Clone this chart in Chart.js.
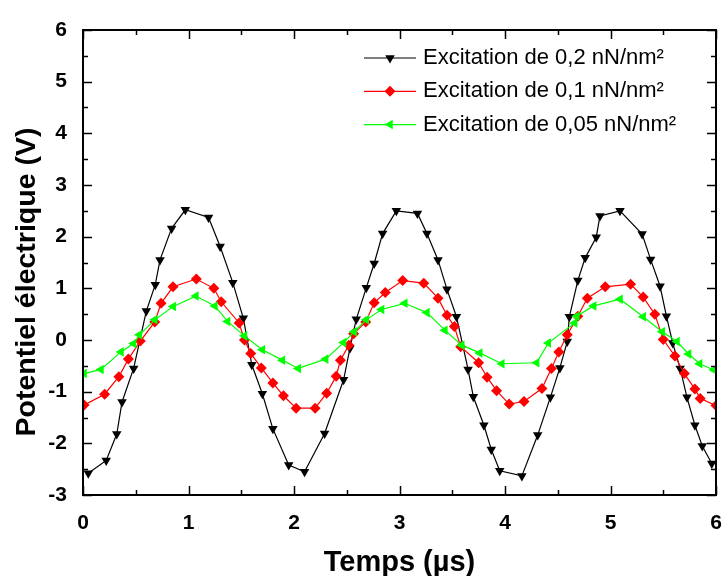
<!DOCTYPE html>
<html lang="fr">
<head>
<meta charset="utf-8">
<title>Potentiel électrique</title>
<script src="https://cdn.jsdelivr.net/npm/chart.js@4/dist/chart.umd.min.js"></script>
<style>
  html, body { margin: 0; padding: 0; background: #ffffff; }
  #wrap { width: 723px; height: 576px; }
</style>
</head>
<body>
<div id="wrap"><canvas id="potentielChart" width="723" height="576"></canvas></div>
<script>
// ==============================================
// DONNEES
// ==============================================

// Excitation 0,2 nN/nm2 (triangles noirs)
const tempsNoir = [0.05, 0.22, 0.32, 0.37, 0.48, 0.60, 0.685, 0.73, 0.84, 0.97, 1.19, 1.30, 1.42, 1.52, 1.60, 1.70, 1.80, 1.95, 2.10, 2.29, 2.47, 2.53, 2.59, 2.685, 2.76, 2.84, 2.97, 3.17, 3.26, 3.365, 3.45, 3.54, 3.65, 3.70, 3.80, 3.87, 3.95, 4.16, 4.31, 4.43, 4.52, 4.59, 4.61, 4.69, 4.76, 4.865, 4.90, 5.09, 5.30, 5.38, 5.47, 5.53, 5.59, 5.66, 5.725, 5.80, 5.87, 5.96];
const tensionNoir = [-2.58, -2.33, -1.82, -1.20, -0.55, 0.56, 1.07, 1.55, 2.16, 2.52, 2.37, 1.81, 1.11, 0.42, -0.48, -1.04, -1.72, -2.42, -2.55, -1.81, -0.77, -0.16, 0.40, 1.01, 1.48, 2.06, 2.50, 2.45, 2.06, 1.55, 0.98, 0.45, -0.57, -1.10, -1.65, -2.12, -2.53, -2.63, -1.84, -1.11, -0.54, -0.03, 0.45, 1.15, 1.59, 1.99, 2.40, 2.50, 2.05, 1.56, 1.04, 0.46, -0.06, -0.55, -1.11, -1.65, -2.05, -2.39];

// Excitation 0,1 nN/nm2 (losanges rouges)
const tempsRouge = [0.01, 0.205, 0.34, 0.43, 0.543, 0.68, 0.74, 0.853, 1.074, 1.24, 1.31, 1.48, 1.53, 1.59, 1.69, 1.80, 1.90, 2.02, 2.20, 2.31, 2.40, 2.44, 2.52, 2.565, 2.68, 2.76, 2.865, 3.03, 3.23, 3.365, 3.45, 3.52, 3.58, 3.75, 3.83, 3.92, 4.04, 4.18, 4.35, 4.44, 4.51, 4.59, 4.69, 4.78, 4.95, 5.19, 5.31, 5.42, 5.50, 5.61, 5.70, 5.80, 5.85, 6.00];
const tensionRouge = [-1.26, -1.05, -0.71, -0.37, -0.02, 0.35, 0.71, 1.03, 1.18, 1.00, 0.74, 0.33, 0.00, -0.26, -0.54, -0.83, -1.08, -1.32, -1.32, -1.03, -0.70, -0.39, -0.10, 0.12, 0.35, 0.72, 0.92, 1.15, 1.10, 0.81, 0.48, 0.26, -0.13, -0.44, -0.72, -0.98, -1.24, -1.19, -0.94, -0.55, -0.23, 0.10, 0.46, 0.81, 1.03, 1.08, 0.83, 0.50, 0.01, -0.31, -0.65, -0.95, -1.13, -1.27];

// Excitation 0,05 nN/nm2 (triangles verts)
const tempsVert = [0.01, 0.17, 0.36, 0.48, 0.535, 0.68, 0.855, 1.07, 1.25, 1.37, 1.53, 1.70, 1.89, 2.04, 2.30, 2.47, 2.57, 2.685, 2.83, 3.05, 3.26, 3.43, 3.59, 3.76, 3.97, 4.30, 4.41, 4.66, 4.68, 4.84, 5.09, 5.31, 5.49, 5.63, 5.74, 5.845, 5.98];
const tensionVert = [-0.65, -0.57, -0.23, -0.07, 0.10, 0.39, 0.65, 0.85, 0.66, 0.36, 0.08, -0.19, -0.39, -0.55, -0.37, -0.05, 0.16, 0.39, 0.59, 0.71, 0.53, 0.19, -0.10, -0.25, -0.46, -0.44, -0.06, 0.33, 0.46, 0.66, 0.79, 0.45, 0.16, -0.03, -0.27, -0.46, -0.58];

const legendes = [
    'Excitation de 0,2 nN/nm\u00B2',
    'Excitation de 0,1 nN/nm\u00B2',
    'Excitation de 0,05 nN/nm\u00B2'
];

const titreX = 'Temps (\u00B5s)';
const titreY = 'Potentiel \u00E9lectrique (V)';

const axeX = { min: 0, max: 6, pas: 1 };
const axeY = { min: -3, max: 6, pas: 1 };

const FONT = '"Liberation Sans", Arial, Helvetica, sans-serif';

// Helper: couple des tableaux x / y en points {x, y}
function toPoints(xs, ys) {
    return xs.map((x, i) => ({ x: x, y: ys[i] }));
}

// ==============================================
// PLUGIN: cadre + graduations vers l'intérieur
// ==============================================
const cadrePlugin = {
    id: 'cadre',
    afterDatasetsDraw(chart) {
        const { ctx, chartArea: a, scales } = chart;
        ctx.save();
        ctx.strokeStyle = '#000';
        ctx.lineWidth = 1.5;

        const majeur = 9, mineur = 5;

        // graduations X (bas et haut)
        const xs = scales.x;
        for (let v = axeX.min; v <= axeX.max + 1e-9; v += axeX.pas / 2) {
            const px = Math.round(xs.getPixelForValue(v)) + 0.5;
            const len = Math.abs(v - Math.round(v)) < 1e-9 ? majeur : mineur;
            ctx.beginPath();
            ctx.moveTo(px, a.bottom); ctx.lineTo(px, a.bottom - len);
            ctx.moveTo(px, a.top); ctx.lineTo(px, a.top + len);
            ctx.stroke();
        }

        // graduations Y (gauche et droite)
        const ys = scales.y;
        for (let v = axeY.min; v <= axeY.max + 1e-9; v += axeY.pas / 2) {
            const py = Math.round(ys.getPixelForValue(v)) + 0.5;
            const len = Math.abs(v - Math.round(v)) < 1e-9 ? majeur : mineur;
            ctx.beginPath();
            ctx.moveTo(a.left, py); ctx.lineTo(a.left + len, py);
            ctx.moveTo(a.right, py); ctx.lineTo(a.right - len, py);
            ctx.stroke();
        }

        // cadre
        ctx.lineWidth = 2;
        ctx.strokeRect(a.left, a.top, a.right - a.left, a.bottom - a.top);
        ctx.restore();
    }
};

// ==============================================
// PLUGIN: titres des axes (positions du modèle)
// ==============================================
const titresPlugin = {
    id: 'titresAxes',
    afterDraw(chart) {
        const { ctx, chartArea: a } = chart;
        ctx.save();
        ctx.fillStyle = '#000';
        ctx.textAlign = 'center';
        ctx.textBaseline = 'alphabetic';

        // titre X
        ctx.font = 'bold 29px ' + FONT;
        ctx.fillText(titreX, (a.left + a.right) / 2, 571);

        // titre Y (vertical)
        ctx.font = 'bold 28.5px ' + FONT;
        ctx.translate(35, 282);
        ctx.rotate(-Math.PI / 2);
        ctx.fillText(titreY, 0, 0);
        ctx.restore();
    }
};

// ==============================================
// PLUGIN: légende dans la zone du graphe
// ==============================================
const legendePlugin = {
    id: 'legendeInterne',
    afterDraw(chart) {
        const { ctx } = chart;
        const x0 = 364, x1 = 416, xt = 423;
        const y0 = 58, dy = 33.3;
        ctx.save();
        chart.data.datasets.forEach((ds, i) => {
            const y = y0 + i * dy;
            ctx.strokeStyle = ds.borderColor;
            ctx.lineWidth = 1.2;
            ctx.beginPath();
            ctx.moveTo(x0, y); ctx.lineTo(x1, y);
            ctx.stroke();

            ctx.fillStyle = ds.pointBackgroundColor;
            ctx.strokeStyle = ds.pointBorderColor;
            Chart.helpers.drawPoint(ctx, {
                pointStyle: ds.pointStyle,
                rotation: ds.pointRotation || 0,
                radius: ds.pointRadius,
                borderWidth: 0
            }, (x0 + x1) / 2, y);

            ctx.fillStyle = '#000';
            ctx.font = '22px ' + FONT;
            ctx.textBaseline = 'middle';
            ctx.textAlign = 'left';
            ctx.fillText(ds.label, xt, y);
        });
        ctx.restore();
    }
};

// ==============================================
// RENDU DU GRAPHE
// ==============================================
function renderChart() {
    const ctx = document.getElementById('potentielChart').getContext('2d');

    const serie = (label, xs, ys, couleur, style, rotation, rayon, ordre) => ({
        label: label,
        data: toPoints(xs, ys),
        borderColor: couleur,
        borderWidth: 1.2,
        pointStyle: style,
        pointRotation: rotation,
        pointRadius: rayon,
        pointBackgroundColor: couleur,
        pointBorderColor: couleur,
        pointBorderWidth: 0,
        tension: 0,
        fill: false,
        order: ordre
    });

    new Chart(ctx, {
        type: 'line',
        data: {
            datasets: [
                serie(legendes[0], tempsNoir, tensionNoir, '#000000', 'triangle', 180, 5.5, 3),
                serie(legendes[1], tempsRouge, tensionRouge, '#ff0000', 'rectRot', 0, 5.5, 2),
                serie(legendes[2], tempsVert, tensionVert, '#00ff00', 'triangle', -90, 5.5, 1)
            ]
        },
        options: {
            responsive: false,
            animation: false,
            layout: { padding: { top: 30, right: 7, left: 0, bottom: 0 } },
            scales: {
                x: {
                    type: 'linear',
                    min: axeX.min,
                    max: axeX.max,
                    ticks: {
                        stepSize: axeX.pas,
                        color: '#000',
                        padding: 8,
                        font: { family: FONT, size: 21, weight: 'bold' }
                    },
                    grid: { display: false },
                    border: { display: false },
                    afterFit: (scale) => {
                        scale.height = 81;
                        scale.paddingLeft = 0;
                        scale.paddingRight = 0;
                    }
                },
                y: {
                    type: 'linear',
                    min: axeY.min,
                    max: axeY.max,
                    ticks: {
                        stepSize: axeY.pas,
                        color: '#000',
                        padding: 8,
                        font: { family: FONT, size: 21, weight: 'bold' }
                    },
                    grid: { display: false },
                    border: { display: false },
                    afterFit: (scale) => {
                        scale.width = 83;
                        scale.paddingTop = 0;
                        scale.paddingBottom = 0;
                    }
                }
            },
            plugins: {
                legend: { display: false },
                title: { display: false },
                tooltip: { enabled: false }
            }
        },
        plugins: [cadrePlugin, titresPlugin, legendePlugin]
    });
}

document.addEventListener('DOMContentLoaded', renderChart);
</script>
</body>
</html>
